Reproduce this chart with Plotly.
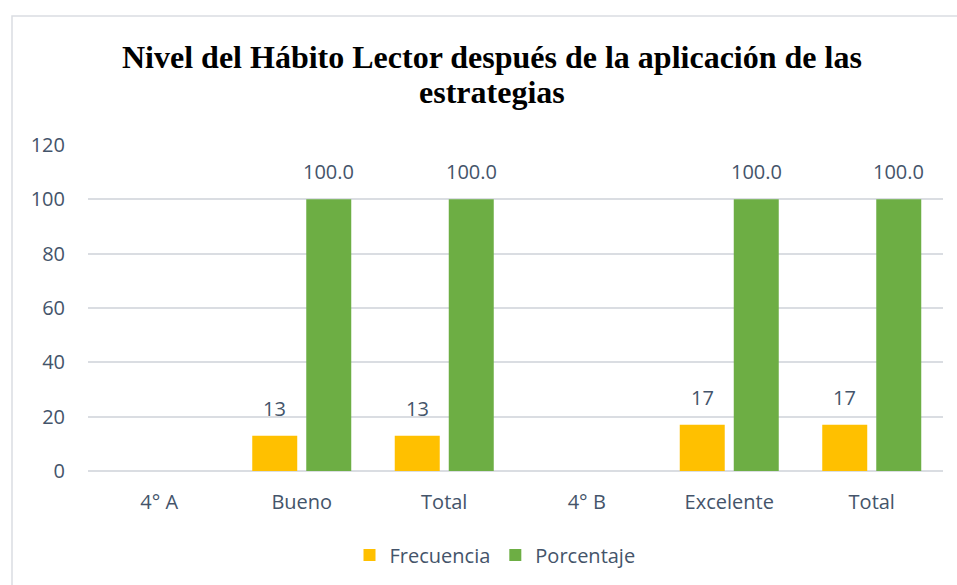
import plotly.graph_objects as go

categories = ["4° A", "Bueno", "Total", "4° B", "Excelente", "Total"]
frecuencia = [None, 13, 13, None, 17, 17]
porcentaje = [None, 100.0, 100.0, None, 100.0, 100.0]
frec_labels = ["" if v is None else f"{v}" for v in frecuencia]
porc_labels = ["" if v is None else f"{v:.1f}" for v in porcentaje]
y_ticks = [0, 20, 40, 60, 80, 100, 120]
title_lines = ["Nivel del Hábito Lector después de la aplicación de las", "estrategias"]

x_pos = list(range(len(categories)))
text_color = "#44546A"
font_family = "Open Sans, Lato, sans-serif"
fsize = 20

L, R, T, B = 88, 14, 145, 114
W, H = 957, 585
pw, ph = W - L - R, H - T - B
chart_cx = (492 - L) / pw  # horizontal centre of the chart area, in paper units

fig = go.Figure()
fig.add_trace(go.Bar(
    x=x_pos, y=frecuencia, name="Frecuencia",
    marker=dict(color="#FFC000", line=dict(width=0)),
))
fig.add_trace(go.Bar(
    x=x_pos, y=porcentaje, name="Porcentaje",
    marker=dict(color="#6DAE44", line=dict(width=0)),
))

# data labels, placed above each bar
slot_px = pw / len(categories) * (1 - 0.242) / 2
annotations = []
for i in x_pos:
    for vals, labels, side in ((frecuencia, frec_labels, -1), (porcentaje, porc_labels, 1)):
        if vals[i] is None:
            continue
        annotations.append(dict(
            x=i, y=vals[i], xref="x", yref="y", text=labels[i], showarrow=False,
            xshift=side * slot_px / 2, yshift=12, yanchor="bottom",
            font=dict(size=fsize, color=text_color, family=font_family),
        ))

# title, one annotation per line (tighter line spacing)
for k, line in enumerate(title_lines):
    cy = 57 + 35 * k
    annotations.append(dict(
        x=chart_cx, y=(H - B - cy) / ph, xref="paper", yref="paper", text=f"<b>{line}</b>",
        showarrow=False, xanchor="center", yanchor="middle",
        font=dict(family="Liberation Serif, Times New Roman, serif", size=32, color="black"),
    ))

fig.update_layout(
    width=W, height=H,
    margin=dict(l=L, r=R, t=T, b=B, autoexpand=False),
    paper_bgcolor="white", plot_bgcolor="white",
    barmode="group", bargap=0.242, bargroupgap=0.167,
    font=dict(family=font_family, color=text_color, size=fsize),
    legend=dict(
        orientation="h", x=(495 - L) / pw, xanchor="center", y=-(555 - 471) / ph, yanchor="middle",
        font=dict(size=fsize, color=text_color), itemwidth=30,
    ),
    xaxis=dict(
        tickvals=x_pos, ticktext=categories, range=[-0.5, len(categories) - 0.5],
        showgrid=False, showline=False, ticks="", tickfont=dict(size=fsize, color=text_color),
        automargin=False, ticklabelstandoff=17,
    ),
    yaxis=dict(
        range=[0, 120], tickvals=y_ticks, showgrid=True, gridcolor="#DADDE2", gridwidth=1.5,
        zeroline=True, zerolinecolor="#DADDE2", zerolinewidth=1.5, showline=False,
        ticks="", tickfont=dict(size=fsize, color=text_color), ticklabelstandoff=22,
        automargin=False,
    ),
    annotations=annotations,
    shapes=[dict(
        type="rect", xref="paper", yref="paper",
        x0=(12 - L) / pw, x1=1.2, y0=-0.6, y1=1 + (T - 16) / ph,
        line=dict(color="#DADDE2", width=1.5), fillcolor="rgba(0,0,0,0)", layer="below",
    )],
)

fig.write_html("out.html", config={"displayModeBar": False},
               post_script="document.body.style.margin='0';")
